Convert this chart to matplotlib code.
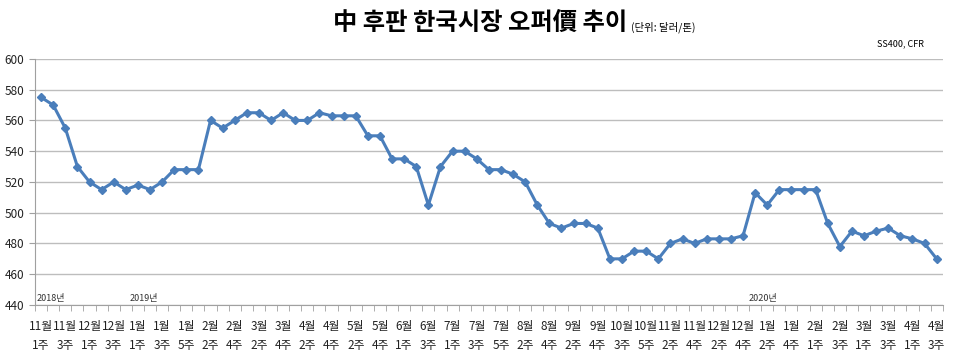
import numpy as np
import matplotlib.pyplot as plt

plt.rcParams['font.family'] = ['Noto Sans CJK KR', 'DejaVu Sans']

# 주간 오퍼가격 (달러/톤), 2018년 11월 1주 ~ 2020년 4월 3주
prices = [575, 570, 555, 530, 520, 515, 520, 515, 518, 515,
          520, 528, 528, 528, 560, 555, 560, 565, 565, 560,
          565, 560, 560, 565, 563, 563, 563, 550, 550, 535,
          535, 530, 505, 530, 540, 540, 535, 528, 528, 525,
          520, 505, 493, 490, 493, 493, 490, 470, 470, 475,
          475, 470, 480, 483, 480, 483, 483, 483, 485, 513,
          505, 515, 515, 515, 515, 493, 478, 488, 485, 488,
          490, 485, 483, 480, 470]

# 격주 라벨
tick_labels = ["11월\n1주", "11월\n3주", "12월\n1주", "12월\n3주", "1월\n1주", "1월\n3주",
               "1월\n5주", "2월\n2주", "2월\n4주", "3월\n2주", "3월\n4주", "4월\n2주",
               "4월\n4주", "5월\n2주", "5월\n4주", "6월\n1주", "6월\n3주", "7월\n1주",
               "7월\n3주", "7월\n5주", "8월\n2주", "8월\n4주", "9월\n2주", "9월\n4주",
               "10월\n3주", "10월\n5주", "11월\n2주", "11월\n4주", "12월\n2주", "12월\n4주",
               "1월\n2주", "1월\n4주", "2월\n1주", "2월\n3주", "3월\n1주", "3월\n3주",
               "4월\n1주", "4월\n3주"]

year_labels = ["2018년", "2019년", "2020년"]
year_pos = [-0.4, 7.3, 58.5]

x = np.arange(len(prices))

fig = plt.figure(figsize=(9.6, 3.57), dpi=100)
ax = fig.add_axes([0.0365, 0.1457, 0.9455, 0.6893])

ax.plot(x, prices, color="#4a7ebb", lw=2.2, marker="D", markersize=4.5,
        markerfacecolor="#4a7ebb", markeredgecolor="#4a7ebb", zorder=3)

ax.set_xlim(-0.5, len(prices) - 0.5)
ax.set_ylim(440, 600)
ax.set_yticks(range(440, 601, 20))
ax.grid(axis="y", color="#bdbdbd", lw=1)
ax.set_axisbelow(True)

ax.set_xticks(x[::2])
ax.set_xticklabels(tick_labels, fontsize=8.5, linespacing=1.6)
ax.set_xticks(np.arange(-0.5, len(prices), 1), minor=True)
ax.tick_params(axis="x", which="major", length=0, pad=11, colors="#222222")
ax.tick_params(axis="x", which="minor", length=4, color="#a0a0a0", direction="out")
ax.tick_params(axis="y", length=4, color="#a0a0a0", labelsize=8.5, labelcolor="#222222")

for s in ["top", "right"]:
    ax.spines[s].set_visible(False)
ax.spines["left"].set_color("#a0a0a0")
ax.spines["bottom"].set_color("#a0a0a0")

for lbl, pos in zip(year_labels, year_pos):
    ax.text(pos, 441.5, lbl, fontsize=6.5, ha="left", va="bottom", color="#333333")

fig.text(0.5, 0.935, "中 후판 한국시장 오퍼價 추이", fontsize=17.5, fontweight="bold",
         ha="center", va="center")
fig.text(0.657, 0.925, "(단위: 달러/톤)", fontsize=7.5, ha="left", va="center")
fig.text(0.963, 0.876, "SS400, CFR", fontsize=6.5, ha="right", va="center")

fig.savefig("out.png", dpi=100)
